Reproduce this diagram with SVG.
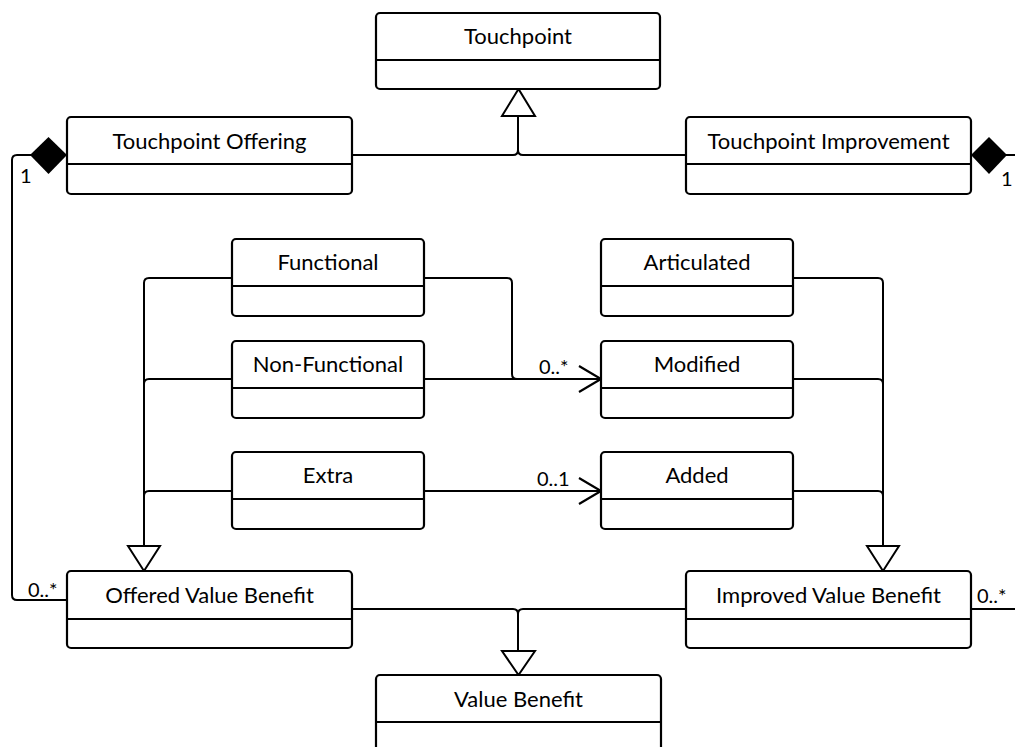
<svg xmlns="http://www.w3.org/2000/svg" width="1015" height="747" viewBox="0 0 1015 747">
  <style>
    .box { fill: #fff; stroke: #000; stroke-width: 2.2; }
    .div { stroke: #000; stroke-width: 2.2; }
    .name { font-family: Lato, "Liberation Sans", sans-serif; font-size: 22px; text-anchor: middle; fill: #000; }
    .mult { font-family: Lato, "Liberation Sans", sans-serif; font-size: 20px; fill: #000; }
    .edge { fill: none; stroke: #000; stroke-width: 2; }
    .gen { fill: #fff; stroke: #000; stroke-width: 2; stroke-linejoin: miter; }
    .comp { fill: #000; stroke: none; }
    .open { fill: none; stroke: #000; stroke-width: 2.2; }
  </style>

  <!-- connectors -->
  <g id="connectors">
    <!-- generalization to Touchpoint -->
    <path class="edge" d="M352,155 H513 Q518,155 518,150 V116"/>
    <path class="edge" d="M686,155 H523 Q518,155 518,150"/>
    <polygon class="gen" points="518.5,89 502,116 535,116"/>

    <!-- composition: Touchpoint Offering 1 - 0..* Offered Value Benefit -->
    <path class="edge" d="M31,155 H17 Q12,155 12,160 V595 Q12,600 17,600 H67"/>
    <polygon class="comp" points="30,155 48.5,137 67,155 48.5,174"/>
    <text class="mult" x="20" y="183">1</text>
    <text class="mult" x="28" y="597">0..*</text>

    <!-- composition: Touchpoint Improvement 1 - 0..* Improved Value Benefit -->
    <path class="edge" d="M1006,155 H1015"/>
    <polygon class="comp" points="971,155 989,137 1007,155 989,174"/>
    <text class="mult" x="1001" y="186">1</text>
    <path class="edge" d="M971,609 H1015"/>
    <text class="mult" x="977" y="603">0..*</text>

    <!-- generalization to Offered Value Benefit -->
    <path class="edge" d="M232,278 H149 Q144,278 144,283 V546"/>
    <path class="edge" d="M232,379 H149 Q144,379 144,384 V546"/>
    <path class="edge" d="M232,491 H149 Q144,491 144,496 V546"/>
    <polygon class="gen" points="128,546 160,546 144,571"/>

    <!-- associations to Modified / Added -->
    <path class="edge" d="M424,278 H507 Q512,278 512,283 V374 Q512,379 517,379 H600"/>
    <path class="edge" d="M424,379 H600"/>
    <polyline class="open" points="579,366 601,379 579,392"/>
    <text class="mult" x="539" y="374">0..*</text>
    <path class="edge" d="M424,491 H600"/>
    <polyline class="open" points="579,478 601,491 579,504"/>
    <text class="mult" x="537" y="486">0..1</text>

    <!-- generalization to Improved Value Benefit -->
    <path class="edge" d="M793,278 H878 Q883,278 883,283 V546"/>
    <path class="edge" d="M793,379 H878 Q883,379 883,384 V546"/>
    <path class="edge" d="M793,491 H878 Q883,491 883,496 V546"/>
    <polygon class="gen" points="867,546 899,546 883,571"/>

    <!-- generalization to Value Benefit -->
    <path class="edge" d="M352,609 H513 Q518,609 518,614 V651"/>
    <path class="edge" d="M686,609 H523 Q518,609 518,614"/>
    <polygon class="gen" points="502,651 535,651 518.5,675"/>
  </g>

  <g id="touchpoint">
    <rect class="box" x="376" y="13" width="284" height="76" rx="4"/>
    <line class="div" x1="376" y1="60" x2="660" y2="60"/>
    <text class="name" x="518" y="44">Touchpoint</text>
  </g>

  <g id="touchpoint-offering">
    <rect class="box" x="67" y="117" width="285" height="77" rx="4"/>
    <line class="div" x1="67" y1="164" x2="352" y2="164"/>
    <text class="name" x="209.5" y="149">Touchpoint Offering</text>
  </g>

  <g id="touchpoint-improvement">
    <rect class="box" x="686" y="117" width="285" height="77" rx="4"/>
    <line class="div" x1="686" y1="164" x2="971" y2="164"/>
    <text class="name" x="828.5" y="149">Touchpoint Improvement</text>
  </g>

  <g id="functional">
    <rect class="box" x="232" y="239" width="192" height="77" rx="4"/>
    <line class="div" x1="232" y1="286" x2="424" y2="286"/>
    <text class="name" x="328" y="270">Functional</text>
  </g>

  <g id="non-functional">
    <rect class="box" x="232" y="341" width="192" height="77" rx="4"/>
    <line class="div" x1="232" y1="388" x2="424" y2="388"/>
    <text class="name" x="328" y="372">Non-Functional</text>
  </g>

  <g id="extra">
    <rect class="box" x="232" y="452" width="192" height="77" rx="4"/>
    <line class="div" x1="232" y1="499" x2="424" y2="499"/>
    <text class="name" x="328" y="483">Extra</text>
  </g>

  <g id="articulated">
    <rect class="box" x="601" y="239" width="192" height="77" rx="4"/>
    <line class="div" x1="601" y1="286" x2="793" y2="286"/>
    <text class="name" x="697" y="270">Articulated</text>
  </g>

  <g id="modified">
    <rect class="box" x="601" y="341" width="192" height="77" rx="4"/>
    <line class="div" x1="601" y1="388" x2="793" y2="388"/>
    <text class="name" x="697" y="372">Modified</text>
  </g>

  <g id="added">
    <rect class="box" x="601" y="452" width="192" height="77" rx="4"/>
    <line class="div" x1="601" y1="499" x2="793" y2="499"/>
    <text class="name" x="697" y="483">Added</text>
  </g>

  <g id="offered-value-benefit">
    <rect class="box" x="67" y="571" width="285" height="77" rx="4"/>
    <line class="div" x1="67" y1="619" x2="352" y2="619"/>
    <text class="name" x="209.5" y="603">Offered Value Benefit</text>
  </g>

  <g id="improved-value-benefit">
    <rect class="box" x="686" y="571" width="285" height="77" rx="4"/>
    <line class="div" x1="686" y1="619" x2="971" y2="619"/>
    <text class="name" x="828.5" y="603">Improved Value Benefit</text>
  </g>

  <g id="value-benefit">
    <rect class="box" x="376" y="675" width="285" height="90" rx="4"/>
    <line class="div" x1="376" y1="722" x2="661" y2="722"/>
    <text class="name" x="518.5" y="707">Value Benefit</text>
  </g>
</svg>
